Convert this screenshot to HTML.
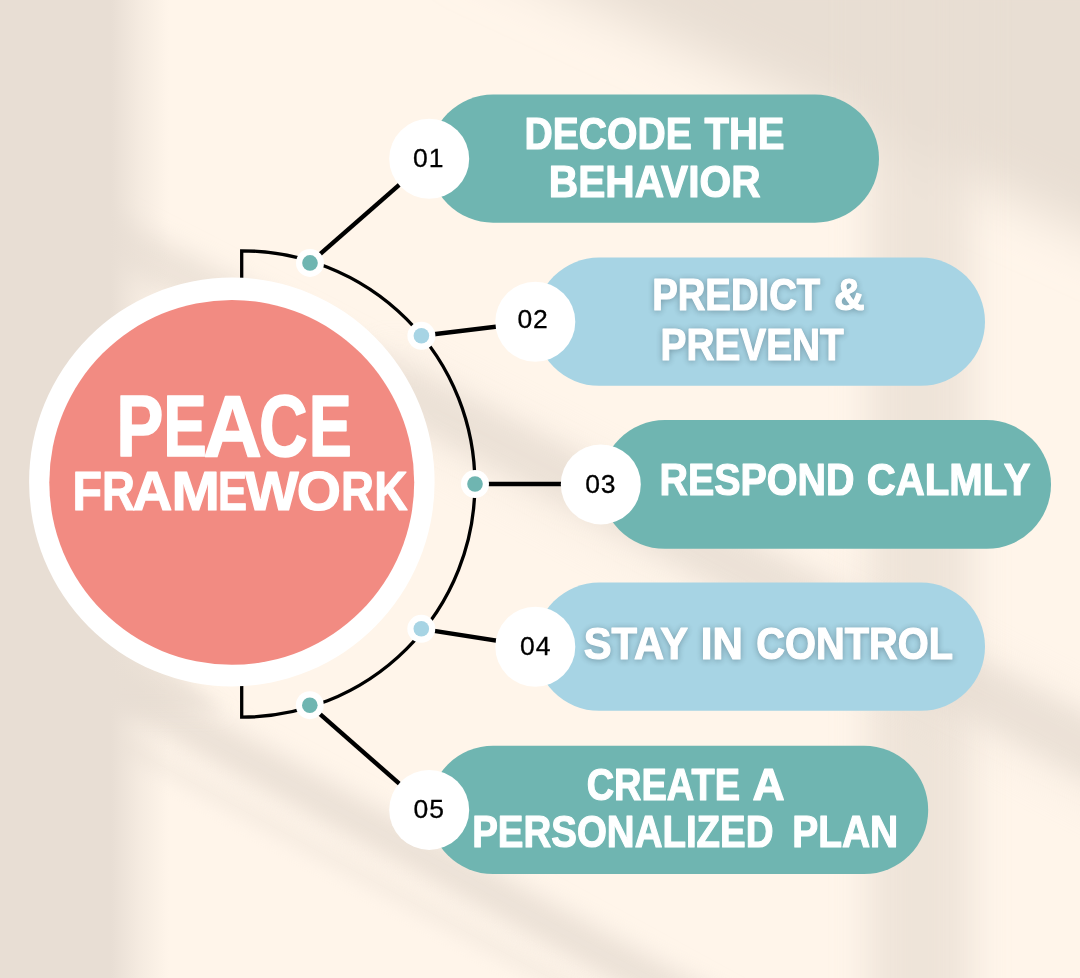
<!DOCTYPE html>
<html lang="en">
<head>
<meta charset="utf-8">
<title>PEACE Framework</title>
<style>
  html, body { margin: 0; padding: 0; background: #fff5ea; }
  body { width: 1080px; height: 978px; overflow: hidden; position: relative; }
  svg { display: block; position: absolute; left: 0; top: 0; }
  text { font-family: "Liberation Sans", sans-serif; }
  .b { font-weight: 700; fill: #ffffff; stroke: #ffffff; stroke-width: 1.2px; stroke-linejoin: round; }
  .t1 { stroke-width: 1.6px; }
  .t2 { stroke-width: 1.2px; }
  .n { font-weight: 400; fill: #000000; font-size: 26.5px; stroke: #000000; stroke-width: 0.3px; }
  .glow { filter: drop-shadow(0px 1px 3px rgba(40,60,70,0.38)); }
</style>
</head>
<body>
<svg width="1080" height="978" viewBox="0 0 1080 978">
  <defs>
    <linearGradient id="leftStrip" x1="0" y1="0" x2="1" y2="0">
      <stop offset="0" stop-color="#e8ded4" stop-opacity="1"/>
      <stop offset="0.63" stop-color="#e8ded4" stop-opacity="1"/>
      <stop offset="0.79" stop-color="#e8ded4" stop-opacity="0.45"/>
      <stop offset="0.96" stop-color="#e8ded4" stop-opacity="0"/>
    </linearGradient>
    <filter id="blur26" x="-50%" y="-50%" width="200%" height="200%"><feGaussianBlur stdDeviation="26"/></filter>
    <filter id="blur18" x="-50%" y="-50%" width="200%" height="200%"><feGaussianBlur stdDeviation="18"/></filter>
    <filter id="blur22" x="-50%" y="-50%" width="200%" height="200%"><feGaussianBlur stdDeviation="22"/></filter>
    <filter id="blur12" x="-50%" y="-50%" width="200%" height="200%"><feGaussianBlur stdDeviation="12"/></filter>
    <filter id="blur10" x="-50%" y="-50%" width="200%" height="200%"><feGaussianBlur stdDeviation="9"/></filter>
    <filter id="blur14" x="-50%" y="-50%" width="200%" height="200%"><feGaussianBlur stdDeviation="14"/></filter>
  </defs>

  <!-- background -->
  <g id="bg">
    <rect x="0" y="0" width="1080" height="978" fill="#fff5ea"/>
    <!-- top-right shaded area -->
    <polygon points="452,-60 1200,-60 1200,286" fill="#e8ded3" filter="url(#blur26)"/>
    <!-- vertical mullion shadow on the right -->
    <rect x="868" y="-60" width="104" height="1100" fill="#e8ded3" opacity="0.72" filter="url(#blur18)"/>
    <!-- diagonal band A -->
    <polygon points="90,203 1140,744 1140,806 90,255" fill="#e6dcd1" opacity="0.7" filter="url(#blur12)"/>
    <polygon points="380,346 1140,735 1140,827 380,426" fill="#e6dcd1" opacity="0.28" filter="url(#blur22)"/>
    <!-- diagonal band B -->
    <polygon points="60,635 800,1039 800,1083 60,679" fill="#e6dcd1" opacity="0.8" filter="url(#blur12)"/>
    <polygon points="120,733 800,1104 800,1122 120,751" fill="#e6dcd1" opacity="0.4" filter="url(#blur10)"/>
    <polygon points="100,625 150,648 225,712 100,712" fill="#e6dcd1" opacity="0.7" filter="url(#blur10)"/>
    <!-- left strip -->
    <rect x="0" y="0" width="176" height="978" fill="url(#leftStrip)"/>
  </g>

  <!-- arc + connectors -->
  <g fill="none" stroke="#000000">
    <path d="M241.7 300 V250.8 A233.2 233.2 0 0 1 241.7 717.2 V670" stroke-width="3.3"/>
    <g stroke-width="4.4">
      <line x1="310" y1="262.9" x2="429.2" y2="158.7"/>
      <line x1="421.4" y1="335.8" x2="535.3" y2="321.8"/>
      <line x1="475" y1="484" x2="600.8" y2="484"/>
      <line x1="421.3" y1="628.8" x2="535.3" y2="646.7"/>
      <line x1="309.8" y1="705.2" x2="429.2" y2="809.9"/>
    </g>
  </g>

  <!-- main circle -->
  <ellipse cx="231.85" cy="482" rx="202.75" ry="204.4" fill="#ffffff"/>
  <circle cx="231.75" cy="482.35" r="182.45" fill="#f28b82"/>

  <!-- dots -->
  <g>
    <circle cx="310" cy="262.9" r="14" fill="#ffffff"/><circle cx="310" cy="262.9" r="7.8" fill="#6fb5b1"/>
    <circle cx="421.4" cy="335.8" r="14" fill="#ffffff"/><circle cx="421.4" cy="335.8" r="7.8" fill="#a7d4e4"/>
    <circle cx="475" cy="484" r="14" fill="#ffffff"/><circle cx="475" cy="484" r="7.8" fill="#6fb5b1"/>
    <circle cx="421.3" cy="628.8" r="14" fill="#ffffff"/><circle cx="421.3" cy="628.8" r="7.8" fill="#a7d4e4"/>
    <circle cx="309.8" cy="705.2" r="14" fill="#ffffff"/><circle cx="309.8" cy="705.2" r="7.8" fill="#6fb5b1"/>
  </g>

  <!-- pills -->
  <rect x="429" y="94.5" width="450" height="128.2" rx="64.1" fill="#6fb5b1"/>
  <rect x="535" y="257.6" width="450" height="128.2" rx="64.1" fill="#a7d4e4"/>
  <rect x="600.5" y="420.1" width="450.5" height="128.7" rx="64.35" fill="#6fb5b1"/>
  <rect x="535" y="582.5" width="450" height="128.3" rx="64.1" fill="#a7d4e4"/>
  <rect x="429" y="745.7" width="499.2" height="128.4" rx="64.2" fill="#6fb5b1"/>

  <!-- number circles -->
  <circle cx="429.2" cy="158.7" r="40" fill="#ffffff"/>
  <circle cx="535.3" cy="321.8" r="40" fill="#ffffff"/>
  <circle cx="600.8" cy="484.4" r="40" fill="#ffffff"/>
  <circle cx="535.3" cy="646.7" r="40" fill="#ffffff"/>
  <circle cx="429.2" cy="809.9" r="40" fill="#ffffff"/>

  <!-- numbers -->
  <g class="n" text-anchor="middle" opacity="0.999">
    <text x="428.3" y="166.8" textLength="30.4" lengthAdjust="spacing">01</text>
    <text x="532.6" y="328.2" textLength="30.4" lengthAdjust="spacing">02</text>
    <text x="600.4" y="492.5" textLength="30.4" lengthAdjust="spacing">03</text>
    <text x="535.3" y="655.2" textLength="30.4" lengthAdjust="spacing">04</text>
    <text x="428.8" y="817.7" textLength="30.4" lengthAdjust="spacing">05</text>
  </g>

  <!-- title -->
  <g opacity="0.999">
  <text class="b t1" y="455.6" font-size="86.6"><tspan x="116.27" textLength="47.23" lengthAdjust="spacingAndGlyphs">P</tspan><tspan x="163.30" textLength="43.57" lengthAdjust="spacingAndGlyphs">E</tspan><tspan x="203.20" textLength="58.62" lengthAdjust="spacingAndGlyphs">A</tspan><tspan x="258.89" textLength="48.59" lengthAdjust="spacingAndGlyphs">C</tspan><tspan x="308.74" textLength="43.04" lengthAdjust="spacingAndGlyphs">E</tspan></text>
  <text class="b t2" y="509.5" font-size="56"><tspan x="72.42" textLength="29.52" lengthAdjust="spacingAndGlyphs">F</tspan><tspan x="101.99" textLength="32.87" lengthAdjust="spacingAndGlyphs">R</tspan><tspan x="132.24" textLength="40.11" lengthAdjust="spacingAndGlyphs">A</tspan><tspan x="171.48" textLength="48.41" lengthAdjust="spacingAndGlyphs">M</tspan><tspan x="218.00" textLength="29.01" lengthAdjust="spacingAndGlyphs">E</tspan><tspan x="244.93" textLength="53.73" lengthAdjust="spacingAndGlyphs">W</tspan><tspan x="296.82" textLength="44.18" lengthAdjust="spacingAndGlyphs">O</tspan><tspan x="341.00" textLength="32.90" lengthAdjust="spacingAndGlyphs">R</tspan><tspan x="374.15" textLength="33.38" lengthAdjust="spacingAndGlyphs">K</tspan></text>
  </g>

  <!-- labels -->
  <g font-size="44.5" opacity="0.999">
    <text class="b"><tspan x="524.59" y="149.3" textLength="167.18" lengthAdjust="spacingAndGlyphs">DECODE</tspan> <tspan x="704.50" y="149.3" textLength="80.01" lengthAdjust="spacingAndGlyphs">THE</tspan> <tspan x="548.80" y="196.6" textLength="211.76" lengthAdjust="spacingAndGlyphs">BEHAVIOR</tspan></text>
    <text class="b glow"><tspan x="652.17" y="310.3" textLength="168.12" lengthAdjust="spacingAndGlyphs">PREDICT</tspan> <tspan x="834.12" y="310.3" textLength="30.65" lengthAdjust="spacingAndGlyphs">&amp;</tspan> <tspan x="660.54" y="360.4" textLength="183.28" lengthAdjust="spacingAndGlyphs">PREVENT</tspan></text>
    <text class="b"><tspan x="659.43" y="495.3" textLength="195.03" lengthAdjust="spacingAndGlyphs">RESPOND</tspan> <tspan x="866.70" y="495.3" textLength="163.86" lengthAdjust="spacingAndGlyphs">CALMLY</tspan></text>
    <text class="b glow"><tspan x="583.65" y="659.2" textLength="103.69" lengthAdjust="spacingAndGlyphs">STAY</tspan> <tspan x="700.80" y="659.2" textLength="41.98" lengthAdjust="spacingAndGlyphs">IN</tspan> <tspan x="756.28" y="659.2" textLength="196.86" lengthAdjust="spacingAndGlyphs">CONTROL</tspan></text>
    <text class="b"><tspan x="586.65" y="799.8" textLength="153.33" lengthAdjust="spacingAndGlyphs">CREATE</tspan> <tspan x="752.60" y="799.8" textLength="30.53" lengthAdjust="spacingAndGlyphs">A</tspan> <tspan x="472.17" y="847.1" textLength="301.39" lengthAdjust="spacingAndGlyphs">PERSONALIZED</tspan> <tspan x="792.17" y="847.1" textLength="106.08" lengthAdjust="spacingAndGlyphs">PLAN</tspan></text>
  </g>
</svg>
</body>
</html>
